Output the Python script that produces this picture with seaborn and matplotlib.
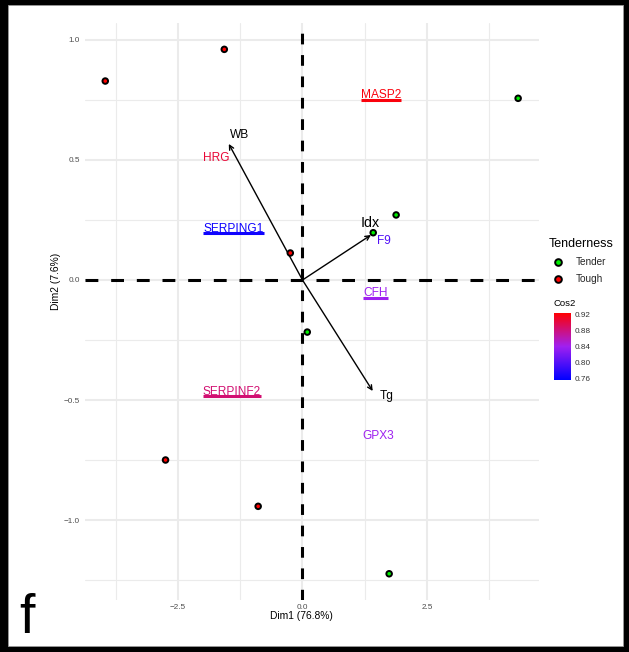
import matplotlib
matplotlib.use("Agg")
import numpy as np
import pandas as pd
import matplotlib.pyplot as plt
import seaborn as sns
from matplotlib.colors import LinearSegmentedColormap, Normalize
from matplotlib.cm import ScalarMappable
from matplotlib.lines import Line2D
from matplotlib.patches import Rectangle

# --- individuals (PCA scores) ---
ind_dim1 = [-3.96, -1.57, -0.245, -2.75, -0.89, 4.33, 1.88, 1.42, 0.096, 1.74]
ind_dim2 = [0.829, 0.961, 0.1125, -0.75, -0.943, 0.757, 0.271, 0.197, -0.217, -1.224]
tenderness = ["Tough", "Tough", "Tough", "Tough", "Tough",
              "Tender", "Tender", "Tender", "Tender", "Tender"]

# --- protein variables, coloured by cos2 ---
genes = ["MASP2", "HRG", "SERPING1", "F9", "CFH", "SERPINF2", "GPX3"]
gene_dim1 = [1.58, -1.727, -1.385, 1.63, 1.47, -1.42, 1.52]
gene_dim2 = [0.77, 0.51, 0.214, 0.164, -0.056, -0.465, -0.649]
gene_cos2 = [0.92, 0.905, 0.765, 0.80, 0.84, 0.885, 0.84]

# --- supplementary quantitative traits (arrows) ---
sup_vars = ["WB", "Idx", "Tg"]
sup_dim1 = [-1.48, 1.375, 1.41]
sup_dim2 = [0.567, 0.1875, -0.4625]

# axis tick values and titles
x_ticks = [-2.5, 0.0, 2.5]
y_ticks = [-1.0, -0.5, 0.0, 0.5, 1.0]
cos2_ticks = [0.76, 0.80, 0.84, 0.88, 0.92]
x_title = "Dim1 (76.8%)"
y_title = "Dim2 (7.6%)"

sns.set_theme(style="white")
plt.rcParams["font.family"] = ["Liberation Sans", "DejaVu Sans"]

W, H = 629, 652
fig = plt.figure(figsize=(W / 100, H / 100), dpi=100)
fig.patch.set_facecolor("black")
fig.add_artist(Rectangle((8 / W, 6 / H), 615 / W, 641 / H, transform=fig.transFigure,
                         facecolor="white", edgecolor="#9a9a9a", lw=0.6, zorder=-1))

ax = fig.add_axes([85 / W, 52 / H, 454 / W, 577 / H])
ax.set_facecolor("white")

df = pd.DataFrame({"Dim1": ind_dim1, "Dim2": ind_dim2, "Tenderness": tenderness})
palette = {"Tender": "#00EE00", "Tough": "#FF0000"}
sns.scatterplot(data=df, x="Dim1", y="Dim2", hue="Tenderness", palette=palette,
                s=16, edgecolor="black", linewidth=1.4, legend=False, ax=ax, zorder=6)

ax.set_xlim(-4.367, 4.749)
ax.set_ylim(-1.3333, 1.0708)
ax.set_xticks(x_ticks)
ax.set_xticklabels([f"{v:.1f}".replace("-", "\u2212") for v in x_ticks])
ax.set_yticks(y_ticks)
ax.set_yticklabels([f"{v:.1f}".replace("-", "\u2212") for v in y_ticks])
ax.set_xticks([-3.75, -1.25, 1.25, 3.75], minor=True)
ax.set_yticks([-1.25, -0.75, -0.25, 0.25, 0.75], minor=True)
ax.grid(which="major", color="#EBEBEB", lw=1.5, zorder=0)
ax.grid(which="minor", color="#EBEBEB", lw=0.8, zorder=0)
ax.set_axisbelow(True)
for sp in ax.spines.values():
    sp.set_visible(False)
ax.tick_params(which="major", length=1.6, width=1.5, color="black",
               labelcolor="#4D4D4D", labelsize=5.9)
ax.tick_params(axis="y", pad=2.2)
ax.tick_params(axis="x", pad=1.0)
ax.tick_params(which="minor", length=0)

ax.set_xlabel(x_title, fontsize=7.4, color="black")
ax.set_ylabel(y_title, fontsize=7.4, color="black")
ax.xaxis.set_label_coords((301.5 - 85) / 454, -(616 - 600) / 577)
ax.yaxis.set_label_coords((56 - 85) / 454, (600 - 281) / 577)
ax.xaxis.label.set_va("center")
ax.yaxis.label.set_va("center")

# reference lines through the origin
ax.axhline(0, color="black", lw=2.2, dashes=(4.2, 4.2), zorder=3)
ax.axvline(0, color="black", lw=2.2, dashes=(3.5, 3.5), zorder=3)

# arrows for the supplementary traits
label_offsets = {"WB": (8, 6.5), "Idx": (-0.7, 8.6), "Tg": (10, -3.6)}
label_sizes = {"WB": 8.6, "Idx": 10.3, "Tg": 8.6}
for name, x, y in zip(sup_vars, sup_dim1, sup_dim2):
    ax.annotate("", xy=(x, y), xytext=(0, 0),
                arrowprops=dict(arrowstyle="->", lw=1.0, color="black",
                                mutation_scale=8, shrinkA=0, shrinkB=0), zorder=4)
    ax.annotate(name, xy=(x, y), xytext=label_offsets[name], textcoords="offset points",
                ha="center", va="center", fontsize=label_sizes[name], color="black", zorder=7)

# protein labels coloured by cos2
cmap = LinearSegmentedColormap.from_list("cos2", ["#0000FF", "#A020F0", "#FF0000"])
norm = Normalize(vmin=0.7567, vmax=0.925)
underlined = {"MASP2", "SERPING1", "CFH", "SERPINF2"}
texts = []
for name, x, y, c in zip(genes, gene_dim1, gene_dim2, gene_cos2):
    t = ax.text(x, y, name, color=cmap(norm(c)), fontsize=8.6, ha="center", va="center", zorder=7)
    texts.append((name, t, cmap(norm(c))))

fig.canvas.draw()
renderer = fig.canvas.get_renderer()
for name, t, col in texts:
    if name in underlined:
        bb = t.get_window_extent(renderer)
        yline = (bb.y0 + 1.5) / H
        fig.add_artist(Line2D([bb.x0 / W, bb.x1 / W], [yline, yline], color=col,
                              lw=2.2, solid_capstyle="butt", transform=fig.transFigure, zorder=8))

# Tenderness legend
fig.text(549 / W, 1 - 244 / H, "Tenderness", fontsize=9.0, ha="left", va="center", color="black")
handles = [Line2D([], [], ls="", marker="o", markersize=4.8, markerfacecolor=palette[k],
                  markeredgecolor="black", markeredgewidth=1.4) for k in ["Tender", "Tough"]]
fig.legend(handles, ["Tender", "Tough"], loc="upper left",
           bbox_to_anchor=(549 / W, 1 - 257 / H), frameon=False, fontsize=7.2,
           handlelength=1.8, handletextpad=0.85, labelspacing=0.7,
           borderpad=0, borderaxespad=0)

# Cos2 colour bar
fig.text(554 / W, 1 - 303 / H, "Cos2", fontsize=6.8, ha="left", va="center", color="black")
cax = fig.add_axes([554 / W, (H - 380) / H, 16.7 / W, 67.3 / H])
cb = fig.colorbar(ScalarMappable(norm=norm, cmap=cmap), cax=cax)
cb.outline.set_visible(False)
cb.set_ticks(cos2_ticks)
cb.set_ticklabels([f"{v:.2f}" for v in cos2_ticks])
cax.yaxis.set_ticks_position("both")
cax.tick_params(direction="in", color="white", length=3, width=0.9,
                labelsize=5.9, labelcolor="#333333", pad=3, left=True, right=True,
                labelleft=False, labelright=True)

# panel letter
fig.text(19 / W, (H - 633) / H, "f", fontsize=40, ha="left", va="baseline", color="black")

fig.savefig("out.png", dpi=100, facecolor=fig.get_facecolor())
